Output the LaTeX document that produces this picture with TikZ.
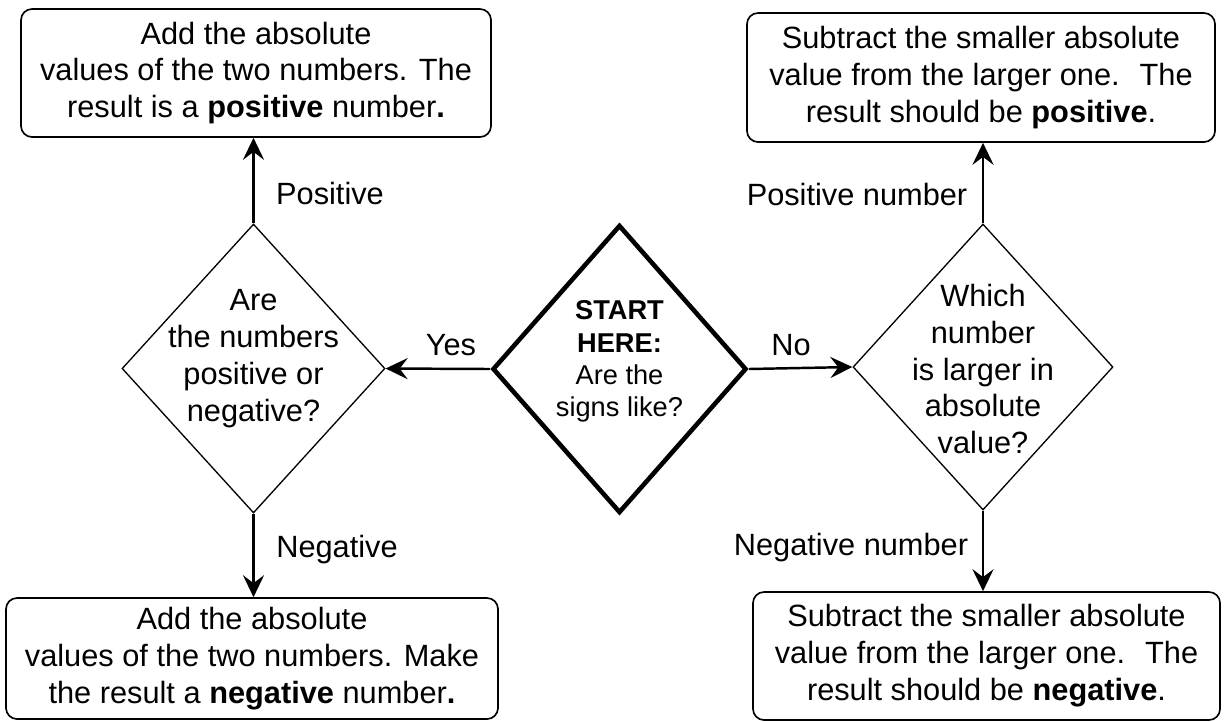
\documentclass[tikz,border=0pt]{standalone}
\usepackage{fontspec}
\setmainfont{Liberation Sans}
\usetikzlibrary{shapes.geometric,arrows.meta}

\begin{document}
\begin{tikzpicture}[>={Stealth[length=12.5pt,width=12pt,inset=4.5pt]},
      every node/.style = {align=center, font=\fontsize{17.5}{21}\selectfont},
      resultbox/.style = {draw, rounded corners=0.22cm, line width=0.95pt, inner sep=0pt},
      decision/.style = {shape=diamond, draw, line width=0.75pt, inner sep=0pt},
      startdia/.style = {decision, line width=2.6pt},
      flow/.style = {->, line width=1.4pt}]
    \useasboundingbox (0,0) rectangle (24.5,-14.42);
    % result boxes
    \node[resultbox, minimum width=9.4cm, minimum height=2.56cm] (tl) at (5.12,-1.46)
      {Add the absolute\\values of the two numbers. The\\result is a \textbf{positive} number\textbf{.}};
    \node[resultbox, minimum width=9.84cm, minimum height=2.42cm] (bl) at (5.04,-13.17)
      {Add the absolute\\values of the two numbers. Make\\the result a \textbf{negative} number\textbf{.}};
    \node[resultbox, minimum width=9.36cm, minimum height=2.58cm] (tr) at (19.62,-1.55)
      {Subtract the smaller absolute\\value from the larger one. \ The\\result should be \textbf{positive}.};
    \node[resultbox, minimum width=9.34cm, minimum height=2.56cm] (br) at (19.73,-13.12)
      {Subtract the smaller absolute\\value from the larger one. \ The\\result should be \textbf{negative}.};
    % decisions
    \node[startdia, minimum width=5.08cm, minimum height=5.76cm] (sd) at (12.39,-7.38) {};
    \node[font=\fontsize{15.5}{18.4}\selectfont] (sdq) at (12.39,-7.23)
      {\textbf{START}\\\textbf{HERE:}\\Are the\\signs like?};
    \node[decision, minimum width=5.26cm, minimum height=5.78cm] (ld) at (5.07,-7.37) {};
    \node (ldq) at (5.07,-7.17) {Are\\the numbers\\positive or\\negative?};
    \node[decision, minimum width=5.2cm, minimum height=5.72cm] (rd) at (19.66,-7.34) {};
    \node (rdq) at (19.66,-7.38) {Which\\number\\is larger in\\absolute\\value?};
    % connectors
    \draw[flow] (sd.west) -- (ld.east);
    \draw[flow] (sd.east) -- (rd.west);
    \draw[flow] (ld.north) -- (ld.north |- tl.south);
    \draw[flow] (ld.south) -- (ld.south |- bl.north);
    \draw[flow] (rd.north) -- (rd.north |- tr.south);
    \draw[flow] (rd.south) -- (rd.south |- br.north);
    % branch labels
    \node (lyes) at (9.02,-6.9) {Yes};
    \node (lno) at (15.82,-6.9) {No};
    \node (lpos) at (6.6,-3.86) {Positive};
    \node (lneg) at (6.74,-11.0) {Negative};
    \node (lposnum) at (17.14,-3.88) {Positive number};
    \node (lnegnum) at (17.02,-10.96) {Negative number};
\end{tikzpicture}
\end{document}
